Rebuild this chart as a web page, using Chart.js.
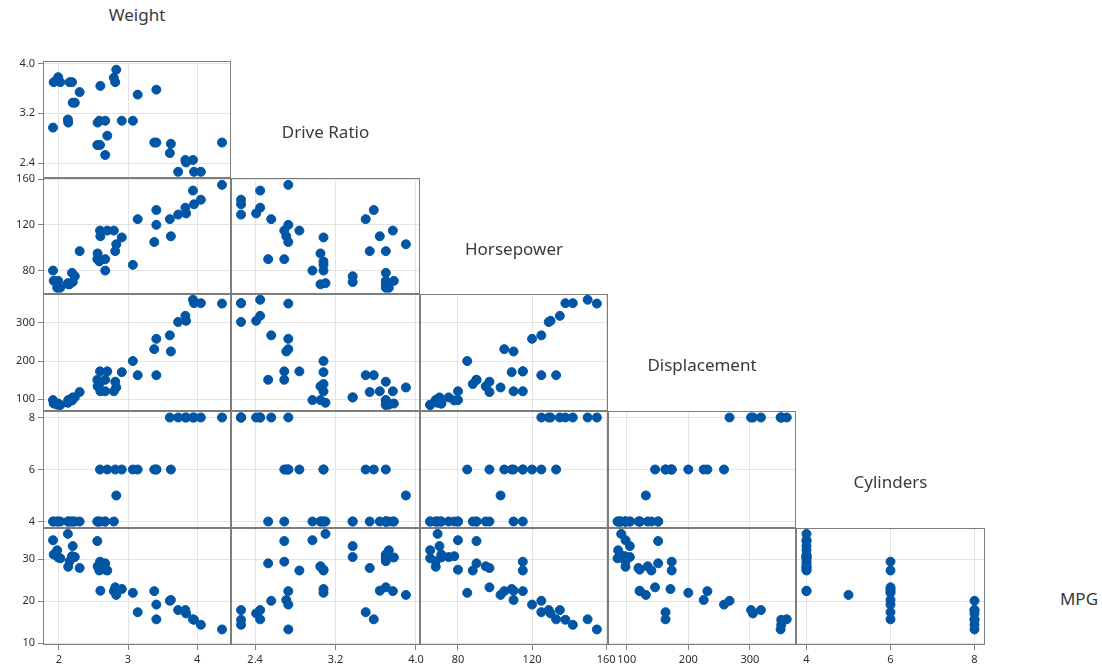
<!DOCTYPE html>
<html>
<head>
<meta charset="utf-8">
<title>Car data - matrix plot</title>
<script src="https://cdn.jsdelivr.net/npm/chart.js@4/dist/chart.umd.min.js"></script>
<style>
  body { margin: 0; background: #fff; }
  #wrap { position: relative; width: 1102px; height: 671px; overflow: hidden; font-family: "Noto Sans", sans-serif; }
  #wrap canvas { position: absolute; }
  .lbl { position: absolute; font-size: 17px; line-height: 20px; color: #3a3a3a; white-space: nowrap; transform: translateX(-50%); }
</style>
</head>
<body>
<div id="wrap"></div>
<script>
'use strict';

// 38 cars (1978-79 models)
const weight = [4.360, 4.054, 3.605, 3.940, 2.155, 2.560, 2.300, 2.230, 2.830, 3.140, 2.795, 3.410, 3.380, 3.070, 3.620, 3.410, 3.840, 3.725, 3.955, 3.830,
  2.585, 2.910, 1.975, 1.915, 2.670, 1.990, 2.135, 2.670, 2.595, 2.700, 2.556, 2.200, 2.020, 2.130, 2.190, 2.815, 2.600, 1.925];
const driveRatio = [2.73, 2.26, 2.56, 2.45, 3.70, 3.05, 3.54, 3.37, 3.90, 3.50, 3.77, 3.58, 2.73, 3.08, 2.71, 2.73, 2.41, 2.26, 2.26, 2.45,
  3.08, 3.08, 3.73, 2.97, 3.08, 3.78, 3.05, 2.53, 2.69, 2.84, 2.69, 3.37, 3.70, 3.10, 3.70, 3.70, 3.64, 3.70];
const horsepower = [155, 142, 125, 150, 68, 95, 97, 75, 103, 125, 115, 133, 105, 85, 110, 120, 130, 129, 138, 135,
  88, 109, 65, 80, 80, 71, 68, 90, 115, 115, 90, 70, 65, 69, 78, 97, 110, 71];
const displacement = [350, 351, 267, 360, 98, 134, 119, 105, 131, 163, 121, 163, 231, 200, 225, 258, 305, 302, 351, 318,
  140, 171, 86, 98, 121, 89, 98, 151, 173, 173, 151, 105, 85, 91, 97, 146, 121, 89];
const cylinders = [8, 8, 8, 8, 4, 4, 4, 4, 5, 6, 4, 6, 6, 6, 6, 6, 8, 8, 8, 8,
  4, 6, 4, 4, 4, 4, 4, 4, 6, 6, 4, 4, 4, 4, 4, 6, 4, 4];
const mpg = [13.3, 14.4, 20.1, 15.7, 29.5, 28.3, 27.9, 30.5, 21.5, 17.4, 22.4, 15.7, 22.4, 22.0, 20.3, 19.2, 17.1, 17.9, 15.6, 17.9,
  27.3, 22.9, 32.1, 34.5, 27.5, 30.4, 28.2, 29.0, 29.4, 27.3, 34.3, 33.1, 30.2, 36.0, 30.7, 23.3, 22.5, 31.1];

const varNames = ['Weight', 'Drive Ratio', 'Horsepower', 'Displacement', 'Cylinders', 'MPG'];
const varData = [weight, driveRatio, horsepower, displacement, cylinders, mpg];

// tick values and their labels
const weightTicks = [2, 3, 4];
const driveTicks = [2.4, 3.2, 4.0];
const hpTicks = [80, 120, 160];
const dispTicks = [100, 200, 300];
const cylTicks = [4, 6, 8];
const mpgTicks = [10, 20, 30];
const tickVals = [weightTicks, driveTicks, hpTicks, dispTicks, cylTicks, mpgTicks];
const tickText = [['2', '3', '4'], ['2.4', '3.2', '4.0'], ['80', '120', '160'], ['100', '200', '300'], ['4', '6', '8'], ['10', '20', '30']];

// axis ranges
const ranges = [[1.77, 4.49], [2.16, 4.04], [59.5, 161], [69.5, 375], [3.75, 8.25], [9.6, 37.4]];

// panel grid edges (px)
const cols = [43, 231, 420, 608, 796, 985, 1173];
const rows = [-56, 61, 178, 294, 411, 528, 645];
const W = 1102, H = 671, PAD = 8;

const DOT = '#0055a5';
const GRID = '#e4e4e4';
const FRAME = '#7d7d7d';
const TICK_CLR = '#2e2e2e';

const wrap = document.getElementById('wrap');

const frame = {
  id: 'frame',
  beforeDatasetsDraw(chart) {
    const { ctx, chartArea: a } = chart;
    ctx.save();
    ctx.strokeStyle = FRAME;
    ctx.lineWidth = 1;
    ctx.strokeRect(a.left + 0.5, a.top + 0.5, a.right - a.left - 1, a.bottom - a.top - 1);
    ctx.restore();
  }
};

function axisOpts(v, labelled, dir) {
  return {
    type: 'linear',
    min: ranges[v][0],
    max: ranges[v][1],
    afterBuildTicks: s => { s.ticks = tickVals[v].map(value => ({ value })); },
    afterFit: s => {
      if (dir === 'x') s.height = labelled ? H - rows[6] : 0;
      else s.width = labelled ? cols[0] : 0;
      s.paddingLeft = s.paddingRight = s.paddingTop = s.paddingBottom = 0;
    },
    ticks: {
      display: labelled,
      padding: 3,
      color: TICK_CLR,
      font: { family: 'Noto Sans', size: 11 },
      callback: (val, i) => tickText[v][i]
    },
    grid: { color: GRID, lineWidth: 1, drawTicks: labelled, tickLength: 5, tickColor: '#808080' },
    border: { display: false }
  };
}

function makePanel(r, c) {
  // row r: y variable r; column c: x variable c
  const L = cols[c], R = cols[c + 1], T = rows[r], B = rows[r + 1];
  const left = c === 0 ? 0 : L - PAD;
  const top = T - PAD;
  const right = R + PAD;
  const bottom = r === 5 ? H : B + PAD;
  const cv = document.createElement('canvas');
  cv.width = right - left;
  cv.height = bottom - top;
  cv.style.left = left + 'px';
  cv.style.top = top + 'px';
  cv.style.width = cv.width + 'px';
  cv.style.height = cv.height + 'px';
  wrap.appendChild(cv);

  const xs = varData[c], ys = varData[r];
  new Chart(cv, {
    type: 'scatter',
    data: {
      datasets: [{
        data: xs.map((x, i) => ({ x, y: ys[i] })),
        backgroundColor: DOT,
        borderColor: DOT,
        borderWidth: 1,
        pointRadius: 4.5,
        pointHoverRadius: 4.5,
        clip: false
      }]
    },
    options: {
      responsive: false,
      animation: false,
      events: [],
      layout: { autoPadding: false, padding: { left: c === 0 ? 0 : PAD, right: PAD, top: PAD, bottom: r === 5 ? 0 : PAD } },
      plugins: { legend: { display: false }, tooltip: { enabled: false } },
      scales: {
        x: axisOpts(c, r === 5, 'x'),
        y: axisOpts(r, c === 0, 'y')
      }
    },
    plugins: [frame]
  });
}

for (let r = 1; r <= 5; r++) {
  for (let c = 0; c < r; c++) makePanel(r, c);
}

// variable names on the diagonal
varNames.forEach((name, k) => {
  const d = document.createElement('div');
  d.className = 'lbl';
  d.textContent = name;
  d.style.left = ((cols[k] + cols[k + 1]) / 2) + 'px';
  d.style.top = (5 + k * 116.8) + 'px';
  wrap.appendChild(d);
});
</script>
</body>
</html>
